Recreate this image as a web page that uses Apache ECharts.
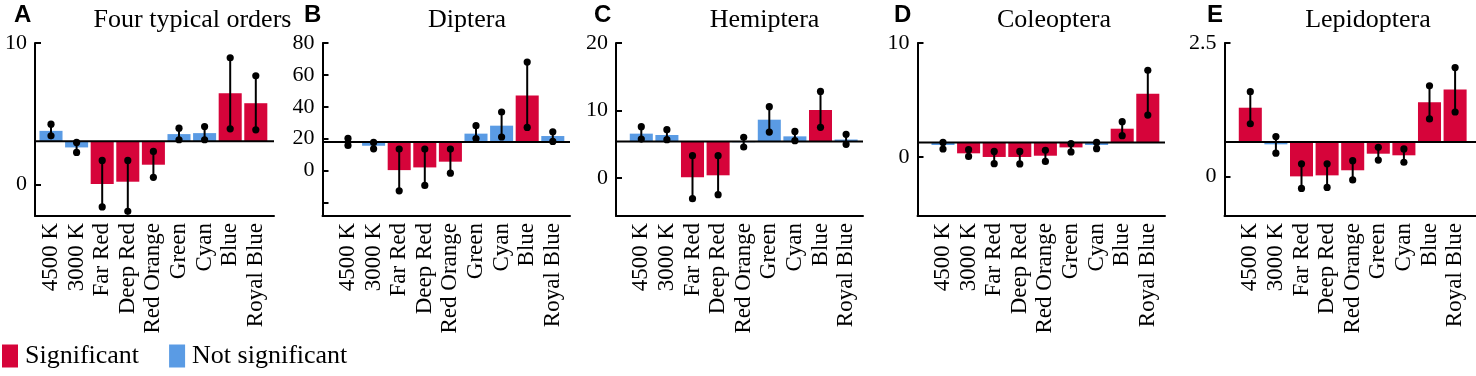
<!DOCTYPE html>
<html>
<head>
<meta charset="utf-8">
<script src="https://cdn.jsdelivr.net/npm/echarts@6/dist/echarts.min.js"></script>
<style>
  html, body { margin: 0; padding: 0; background: #fff; }
  #chart { width: 1476px; height: 376px; }
</style>
</head>
<body>
<div id="chart"></div>
<script>
// categories shared by every panel
const categories = ['4500 K', '3000 K', 'Far Red', 'Deep Red', 'Red Orange', 'Green', 'Cyan', 'Blue', 'Royal Blue']

// panel titles / letters
const letters = ['A', 'B', 'C', 'D', 'E']
const titles = ['Four typical orders', 'Diptera', 'Hemiptera', 'Coleoptera', 'Lepidoptera']

// baseline (control level) of each panel
const baselines = [3.06, 17.8, 5.42, 1.28, 0.649]

// y axis ranges and ticks
const yMin = [-2.21, -28.6, -5.63, -5.18, -0.735]
const yMax = [10, 80, 20, 10, 2.5]
const yTicks = [[0, 10], [-20, 0, 20, 40, 60, 80], [0, 10, 20], [0, 10], [0, 2.5]]
const yLabels = [[0, 10], [0, 20, 40, 60, 80], [0, 10, 20], [0, 10], [0, 2.5]]

// means
const meanA = [3.8, 2.63, 0.05, 0.21, 1.41, 3.57, 3.64, 6.46, 5.75]
const meanB = [17.9, 15.5, 0.2, 1.9, 5.5, 23.1, 28.1, 47, 21.6]
const meanC = [6.57, 6.37, 0.1, 0.4, 5.3, 8.64, 6.17, 10.07, 5.7]
const meanD = [1.05, 0.32, 0, 0, 0.11, 0.84, 1.05, 2.48, 5.55]
const meanE = [1.29, 0.605, 0.006, 0.025, 0.12, 0.43, 0.4, 1.39, 1.63]

// error bar ends
const lowA = [3.45, 2.28, -1.57, -1.88, 0.52, 3.17, 3.17, 3.94, 3.87]
const highA = [4.27, 2.98, 1.71, 1.71, 2.35, 3.99, 4.1, 8.96, 7.68]
const lowB = [15.7, 13.6, -12.8, -9.4, -1.7, 20, 21, 27, 18.2]
const highB = [20.1, 17.6, 13.4, 13.4, 13.4, 28.1, 36.7, 68, 24.3]
const lowC = [5.77, 5.68, -3.07, -2.47, 4.59, 6.81, 5.53, 7.5, 4.99]
const highC = [7.6, 7.16, 3.3, 3.3, 6.02, 10.57, 6.9, 12.83, 6.47]
const lowD = [0.7, 0.05, -0.59, -0.61, -0.39, 0.44, 0.73, 1.87, 3.68]
const highD = [1.28, 0.64, 0.49, 0.49, 0.58, 1.17, 1.28, 3.1, 7.6]
const lowE = [0.99, 0.44, -0.22, -0.2, -0.06, 0.31, 0.27, 1.08, 1.21]
const highE = [1.59, 0.75, 0.24, 0.24, 0.3, 0.55, 0.52, 1.7, 2.04]

// 1 = significant, 0 = not significant
const sigA = [0, 0, 1, 1, 1, 0, 0, 1, 1]
const sigB = [0, 0, 1, 1, 1, 0, 0, 1, 0]
const sigC = [0, 0, 1, 1, 0, 0, 0, 1, 0]
const sigD = [0, 1, 1, 1, 1, 1, 0, 1, 1]
const sigE = [1, 0, 1, 1, 1, 1, 1, 1, 1]

const means = [meanA, meanB, meanC, meanD, meanE]
const lows = [lowA, lowB, lowC, lowD, lowE]
const highs = [highA, highB, highC, highD, highE]
const sigs = [sigA, sigB, sigC, sigD, sigE]

// layout (px)
const axisX = [35, 322.5, 616, 917.5, 1224.5]
const axisEnd = [274, 570, 863, 1165, 1476]
const bandX = [38.2, 335.2, 628.5, 930.2, 1237.5]
const bandW = 230.4
const titleX = [187.5, 462, 759.5, 1049, 1363]
const letterX = [14, 304, 594, 894, 1207]
const gridTop = 43
const gridH = 173

const RED = '#D6043A'
const BLUE = '#5A9BE4'
const serif = "'Liberation Serif', 'Times New Roman', serif"

const chart = echarts.init(document.getElementById('chart'))

const grid = []
const xAxis = []
const yAxis = []
const series = []
const title = []

function barRenderer(base, color) {
  return function (params, api) {
    const i = api.value(0)
    const p = api.coord([i, api.value(1)])
    const b = api.coord([i, base])
    const w = api.size([1, 0])[0] * 0.9
    return {
      type: 'rect',
      shape: { x: p[0] - w / 2, y: Math.min(p[1], b[1]), width: w, height: Math.abs(b[1] - p[1]) },
      style: { fill: color }
    }
  }
}

function errRenderer(params, api) {
  const i = api.value(0)
  const lo = api.coord([i, api.value(1)])
  const hi = api.coord([i, api.value(2)])
  return {
    type: 'group',
    children: [
      { type: 'line', shape: { x1: lo[0], y1: lo[1], x2: hi[0], y2: hi[1] }, style: { stroke: '#000', lineWidth: 2 } },
      { type: 'circle', shape: { cx: lo[0], cy: lo[1], r: 3.6 }, style: { fill: '#000' } },
      { type: 'circle', shape: { cx: hi[0], cy: hi[1], r: 3.6 }, style: { fill: '#000' } }
    ]
  }
}

for (let p = 0; p < 5; p++) {
  const fi = p * 2
  const di = p * 2 + 1
  // frame grid: axes lines, y ticks, baseline
  grid.push({ left: axisX[p], top: gridTop, width: axisEnd[p] - axisX[p], height: gridH })
  // data grid: bars and category labels
  grid.push({ left: bandX[p], top: gridTop, width: bandW, height: gridH })

  xAxis.push({
    type: 'value', gridIndex: fi, min: 0, max: 1,
    axisLine: { show: true, onZero: false, lineStyle: { color: '#000', width: 2 } },
    axisTick: { show: false }, axisLabel: { show: false }, splitLine: { show: false }
  })
  xAxis.push({
    type: 'category', gridIndex: di, data: categories,
    axisLine: { show: false }, axisTick: { show: false }, splitLine: { show: false },
    axisLabel: { rotate: 90, interval: 0, margin: 7, color: '#000', fontFamily: serif, fontSize: 23 }
  })
  yAxis.push({
    type: 'value', gridIndex: fi, min: yMin[p], max: yMax[p],
    axisLine: { show: true, onZero: false, lineStyle: { color: '#000', width: 2 } },
    axisTick: { show: true, inside: true, length: 6, customValues: yTicks[p], lineStyle: { color: '#000', width: 2 } },
    axisLabel: { customValues: yLabels[p], margin: 8, color: '#000', fontFamily: serif, fontSize: 22 },
    splitLine: { show: false }
  })
  yAxis.push({ type: 'value', gridIndex: di, min: yMin[p], max: yMax[p], show: false, splitLine: { show: false } })

  const sigData = []
  const nsData = []
  const errData = []
  for (let i = 0; i < categories.length; i++) {
    if (sigs[p][i]) sigData.push([i, means[p][i]])
    else nsData.push([i, means[p][i]])
    errData.push([i, lows[p][i], highs[p][i]])
  }
  series.push({
    name: 'Significant', type: 'custom', xAxisIndex: di, yAxisIndex: di, z: 2,
    itemStyle: { color: RED }, renderItem: barRenderer(baselines[p], RED), data: sigData
  })
  series.push({
    name: 'Not significant', type: 'custom', xAxisIndex: di, yAxisIndex: di, z: 2,
    itemStyle: { color: BLUE }, renderItem: barRenderer(baselines[p], BLUE), data: nsData
  })
  series.push({
    type: 'line', xAxisIndex: fi, yAxisIndex: fi, z: 3, symbol: 'none', silent: true,
    lineStyle: { color: '#000', width: 2 },
    data: [[0, baselines[p]], [1, baselines[p]]]
  })
  series.push({
    type: 'custom', xAxisIndex: di, yAxisIndex: di, z: 4,
    renderItem: errRenderer, data: errData
  })

  title.push({
    text: titles[p], left: titleX[p], top: 2, textAlign: 'center',
    textStyle: { fontFamily: serif, fontSize: 26, fontWeight: 'normal', color: '#000' }
  })
  title.push({
    text: letters[p], left: letterX[p], top: 3, padding: 0,
    textStyle: { fontFamily: "'Liberation Sans', Arial, sans-serif", fontSize: 24, fontWeight: 'bold', color: '#000' }
  })
}

chart.setOption({
  animation: false,
  title: title,
  legend: {
    data: ['Significant', 'Not significant'],
    left: 2, top: 343, padding: 0,
    icon: 'rect', itemWidth: 16, itemHeight: 23, itemGap: 30,
    textStyle: { fontFamily: serif, fontSize: 26, color: '#000', padding: [0, 0, 0, 2] }
  },
  grid: grid,
  xAxis: xAxis,
  yAxis: yAxis,
  series: series
})
</script>
</body>
</html>
